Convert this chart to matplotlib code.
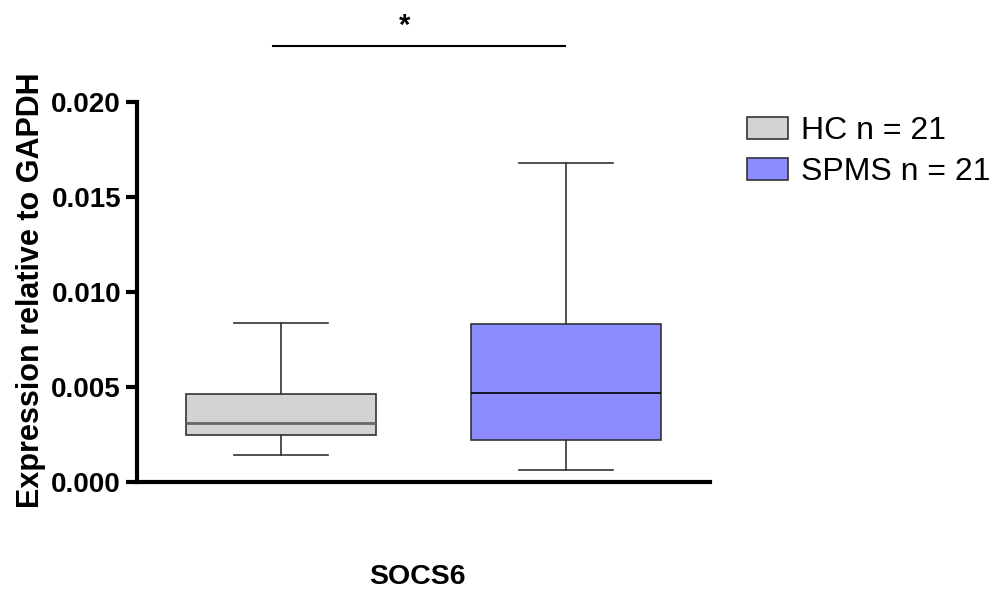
import matplotlib
matplotlib.use("Agg")
import matplotlib.pyplot as plt
from matplotlib.patches import Patch

groups = ["HC n = 21", "SPMS n = 21"]
whislo = [0.00141, 0.00062]
q1 = [0.00244, 0.00218]
med = [0.00309, 0.00465]
q3 = [0.00460, 0.00828]
whishi = [0.00834, 0.01679]
colors = ["#D3D3D3", "#8C8CFF"]
median_colors = ["#666666", "#000000"]
xlabel = "SOCS6"
ylabel = "Expression relative to GAPDH"
yticks = [0.000, 0.005, 0.010, 0.015, 0.020]
sig_label = "*"

plt.rcParams['font.family'] = ['Liberation Sans', 'DejaVu Sans']

fig = plt.figure(figsize=(9.99, 5.9), dpi=100)
ax = fig.add_axes([137/999, 1-481.7/590, (710-137)/999, (481.7-101.7)/590])

for i in range(2):
    st = [dict(whislo=whislo[i], q1=q1[i], med=med[i], q3=q3[i], whishi=whishi[i], fliers=[])]
    ax.bxp(st, positions=[i+1], widths=0.667, patch_artist=True, showfliers=False,
           boxprops=dict(facecolor=colors[i], edgecolor="#333333", linewidth=1.2),
           medianprops=dict(color=median_colors[i], linewidth=2.0 if i == 0 else 1.2),
           whiskerprops=dict(color="#333333", linewidth=1.2),
           capprops=dict(color="#333333", linewidth=1.2),
           capwidths=0.33)

ax.set_xlim(0.495, 2.505)
ax.set_ylim(0, 0.020)
ax.set_yticks(yticks)
ax.set_yticklabels([f"{v:.3f}" for v in yticks], fontsize=20, fontweight="bold")
ax.set_xticks([])
for s in ["top", "right"]:
    ax.spines[s].set_visible(False)
for s in ["left", "bottom"]:
    ax.spines[s].set_linewidth(3)
    ax.spines[s].set_color("black")
ax.tick_params(axis="y", width=3, length=8, direction="out", pad=3.5)

# significance bar
ax.plot([0.972, 1.996], [0.02293, 0.02293], color="black", linewidth=1.5, clip_on=False)
ax.text(1.435, 0.0240, sig_label, ha="center", va="center", fontsize=21, fontweight="bold")

fig.text(31/999, 1-290/590, ylabel, rotation=90, ha="center", va="center",
         fontsize=22, fontweight="bold")
fig.text(417/999, 1-577/590, xlabel, ha="center", va="center", fontsize=20.5, fontweight="bold")

handles = [Patch(facecolor=colors[i], edgecolor="#333333", linewidth=1.2, label=groups[i]) for i in range(2)]
fig.legend(handles=handles, loc="upper left", bbox_to_anchor=(747/999, 1-116/590),
           frameon=False, fontsize=23, handlelength=1.28, handleheight=0.66,
           handletextpad=0.4, labelspacing=0.35, borderpad=0, borderaxespad=0)

fig.savefig("out.png", dpi=100)
